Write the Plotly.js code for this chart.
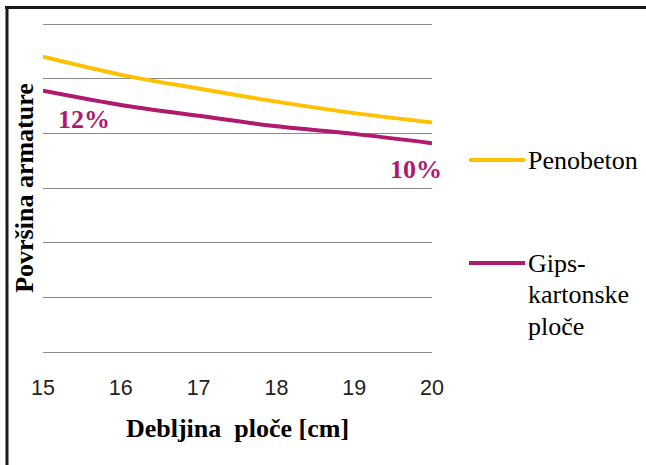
<!DOCTYPE html>
<html>
<head>
<meta charset="utf-8">
<script src="https://cdn.plot.ly/plotly-3.0.1.min.js"></script>
<style>
  html, body { margin: 0; padding: 0; background: #fff; }
  #chart { width: 646px; height: 465px; }
</style>
</head>
<body>
<div id="chart"></div>
<script>
// ---- data ----
const thickness = [15, 16, 17, 18, 19, 20];
const penobeton = [5.40, 5.07, 4.82, 4.58, 4.37, 4.20];
const gipsKarton = [4.78, 4.52, 4.32, 4.13, 3.99, 3.82];
const seriesNames = ['Penobeton', 'Gips-<br>kartonske<br>ploče'];
const pctLabels = ['12%', '10%'];
const xTitle = 'Debljina  ploče [cm]';
const yTitle = 'Površina armature';

// ---- layout helpers (pixel -> paper) ----
const L = 43, R = 432, T = 21, B = 355;   // plot area slightly padded so edge gridlines are drawn
const px = x => (x - L) / (R - L);
const py = y => (B - y) / (B - T);
const pad = 3 / (328 / 6);

const colors = ['#FFC000', '#B0196C'];
const serif = 'Liberation Serif, Times New Roman, serif';

const traces = [
  { x: thickness, y: penobeton, name: 'Penobeton', mode: 'lines',
    line: { color: colors[0], width: 4, shape: 'spline', smoothing: 0.8 }, showlegend: false, hoverinfo: 'skip' },
  { x: thickness, y: gipsKarton, name: 'Gips-kartonske ploče', mode: 'lines',
    line: { color: colors[1], width: 4, shape: 'spline', smoothing: 0.8 }, showlegend: false, hoverinfo: 'skip' }
];

const annotations = [
  { xref: 'paper', yref: 'paper', x: px(56), y: py(120), xanchor: 'left', yanchor: 'middle',
    text: '<b>' + pctLabels[0] + '</b>', showarrow: false, font: { family: serif, size: 26, color: colors[1] } },
  { xref: 'paper', yref: 'paper', x: px(444), y: py(169), xanchor: 'right', yanchor: 'middle',
    text: '<b>' + pctLabels[1] + '</b>', showarrow: false, font: { family: serif, size: 26, color: colors[1] } }
];

// manual legend
const legendY = [160, 263];
const shapes = [];
seriesNames.forEach((nm, i) => {
  shapes.push({ type: 'line', xref: 'paper', yref: 'paper', x0: px(469), x1: px(525), y0: py(legendY[i]), y1: py(legendY[i]),
    line: { color: colors[i], width: 4 } });
  nm.split('<br>').forEach((ln, j) => {
    annotations.push({ xref: 'paper', yref: 'paper', x: px(526), y: py(legendY[i] + j * 31.5), xanchor: 'left', yanchor: 'middle',
      text: ln, showarrow: false, font: { family: serif, size: 26, color: '#000' } });
  });
});

// frame (top and left border)
shapes.push({ type: 'line', xref: 'paper', yref: 'paper', x0: px(5), x1: px(700), y0: py(7.5), y1: py(7.5), line: { color: '#1a1a1a', width: 3 } });
shapes.push({ type: 'line', xref: 'paper', yref: 'paper', x0: px(7), x1: px(7), y0: py(6), y1: py(500), line: { color: '#1a1a1a', width: 3 } });

const layout = {
  width: 646, height: 465,
  margin: { l: L, r: 646 - R, t: T, b: 465 - B, pad: 0 },
  paper_bgcolor: '#fff', plot_bgcolor: '#fff',
  showlegend: false,
  xaxis: {
    range: [15, 20], tickvals: thickness, ticktext: thickness.map(String),
    showgrid: false, zeroline: false, showline: false,
    ticks: 'outside', ticklen: 13, tickcolor: 'rgba(0,0,0,0)',
    tickfont: { family: 'Liberation Sans, Arial, sans-serif', size: 21.5, color: '#222' },
    title: { text: '<b>' + xTitle + '</b>', standoff: 20, font: { family: serif, size: 26, color: '#000' } }
  },
  yaxis: {
    range: [-pad, 6 + pad], dtick: 1, tick0: 0, showticklabels: false, ticks: '',
    showgrid: true, gridcolor: '#8a8a8a', gridwidth: 1, zeroline: false, showline: false,
    title: { text: '<b>' + yTitle + '</b>', standoff: 0, font: { family: serif, size: 26, color: '#000' } }
  },
  shapes: shapes,
  annotations: annotations
};

Plotly.newPlot('chart', traces, layout, { staticPlot: true, displayModeBar: false });
</script>
</body>
</html>
